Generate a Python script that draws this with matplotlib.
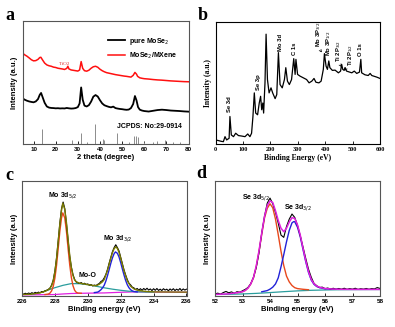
import numpy as np
import matplotlib
matplotlib.use("Agg")
from matplotlib import pyplot as plt

SANS = "Liberation Sans"
SERIF = "Liberation Serif"

# ---- panel a: XRD ----
red_x = [5, 6, 7, 8, 9, 10, 11, 12, 12.8, 13.3, 14, 15, 16, 17, 18, 19, 20, 21, 22, 23, 24, 25,
         25.5, 26, 27, 28, 29, 30, 30.8, 31.5, 32.2, 33, 34, 35, 36, 37, 38, 39, 40, 41, 42, 43,
         44, 45, 46, 47, 48, 49, 50, 51, 52, 53, 54, 55, 55.8, 56.5, 57, 58, 59, 60, 62, 64, 66,
         68, 70, 72, 74, 76, 78, 80]
red_y = [73.9, 72.5, 71.4, 70.0, 68.5, 67.6, 67.8, 68.8, 70.3, 70.5, 68.5, 65.8, 64.3, 63.6, 63.2,
         62.5, 62.2, 61.6, 61.3, 61.0, 60.6, 61.5, 63.2, 61.0, 60.2, 59.9, 59.6, 59.3, 60.2, 67.0,
         61.5, 59.6, 59.2, 60.0, 61.6, 62.8, 63.2, 62.4, 60.8, 59.6, 58.7, 58.0, 57.6, 57.2, 56.8,
         56.4, 56.1, 55.8, 55.5, 55.2, 55.0, 54.7, 54.4, 55.8, 58.2, 56.8, 55.0, 53.8, 53.4, 53.1,
         52.8, 52.4, 52.1, 51.9, 51.6, 51.3, 51.1, 50.9, 50.7, 50.6]
blk_x = [5, 6, 7, 8, 9, 10, 11, 12, 12.8, 13.4, 14, 15, 16, 17, 18, 19, 20, 21, 22, 23, 24, 25,
         26, 27, 28, 29, 30, 30.8, 31.5, 32.2, 33, 34, 35, 36, 37, 38, 39, 40, 41, 42, 43, 44, 45,
         46, 47, 48, 49, 50, 51, 52, 53, 54, 55, 55.8, 56.5, 57.2, 58, 59, 60, 62, 64, 66, 68, 70,
         72, 74, 76, 78, 80]
blk_y = [37.2, 36.0, 35.2, 34.6, 34.2, 33.9, 34.6, 36.5, 40.0, 41.5, 38.5, 33.5, 30.5, 29.6, 29.3,
         29.2, 29.0, 29.1, 28.9, 29.0, 28.9, 29.3, 29.0, 28.8, 28.9, 29.2, 30.0, 33.0, 46.0, 36.0,
         31.2, 30.5, 31.6, 34.5, 38.5, 39.8, 38.6, 35.6, 33.0, 31.5, 30.8, 30.2, 29.8, 30.4, 29.2,
         28.8, 28.5, 28.3, 28.0, 27.8, 28.0, 29.2, 32.5, 39.0, 35.5, 30.0, 27.9, 27.2, 26.8, 26.4,
         27.0, 27.6, 27.9, 27.6, 27.2, 27.0, 26.8, 26.5, 26.3]
# JCPDS 29-0914 reference lines
ref_pos = [13.7, 27.4, 31.3, 34.3, 37.9, 41.5, 42.0, 47.5, 53.3, 55.6, 56.2, 57.0, 60.0, 64.0,
           65.6, 69.4, 73.0, 76.0]
ref_h = [12.2, 3.0, 8.6, 1.8, 16.5, 4.3, 3.5, 8.6, 1.8, 6.1, 6.1, 5.6, 1.5, 1.8, 2.2, 3.2, 1.8, 1.5]

# ---- panel b: XPS survey ----
sv_x = [0, 10, 20, 28, 34, 40, 49, 52, 57, 65, 73, 83, 95, 107, 117, 125, 131, 136, 141, 146,
        153, 159, 164, 168, 172, 175, 180, 184, 189, 195, 202, 208, 217, 223, 229, 235, 243, 251,
        256, 262, 269, 277, 285, 290, 293, 299, 308, 320, 332, 341, 351, 359, 366, 377, 385, 393,
        397, 403, 408, 413, 417, 426, 436, 448, 456, 460, 464, 469, 472, 478, 497, 506, 515, 525,
        530, 533, 545, 557, 564, 570, 588, 600]
sv_y = [3.3, 2.8, 2.2, 1.9, 6.0, 3.3, 4.7, 22.5, 7.4, 6.0, 8.8, 6.9, 6.5, 6.0, 8.2, 6.0, 8.8,
        22.5, 41.8, 25.3, 23.9, 33.5, 39.0, 28.0, 33.5, 25.3, 50.0, 89.8, 52.7, 41.8, 45.9, 41.8,
        37.1, 40.4, 74.7, 48.6, 45.9, 52.7, 62.4, 51.4, 48.6, 52.7, 69.8, 56.9, 69.2, 56.9, 55.5,
        54.1, 52.7, 50.0, 51.4, 53.6, 50.5, 50.0, 51.4, 61.0, 73.9, 63.7, 61.0, 67.9, 62.4, 60.2,
        60.4, 58.2, 59.6, 65.1, 61.0, 60.2, 62.4, 59.6, 58.2, 59.6, 57.7, 58.8, 69.2, 58.2, 56.6,
        56.0, 57.7, 56.0, 54.7, 53.6]

# ---- panel c: Mo 3d ----
mo_raw = [1.0, 0.6, 1.4, 0.8, 1.6, 1.0, 1.9, 1.2, 2.2, 1.6, 2.4, 1.8, 2.9, 2.5, 3.6, 4.0, 4.8, 6.0,
          8.6, 13.0, 21.0, 32.5, 47.5, 63.0, 75.5, 81.5, 75.8, 63.0, 48.5, 34.0, 24.5, 17.8, 13.6,
          11.2, 10.6, 10.0, 10.8, 9.6, 10.2, 9.0, 9.6, 8.4, 9.0, 7.8, 8.6, 8.2, 9.2, 10.0, 11.8,
          12.6, 15.0, 18.0, 22.5, 28.0, 33.0, 38.0, 41.5, 44.0, 41.5, 38.5, 33.0, 27.5, 22.0, 17.5,
          13.5, 10.2, 8.8, 6.8, 6.2, 4.6, 5.6, 4.2, 5.4, 4.0, 5.6, 4.4, 5.8, 4.2, 5.2, 3.8, 5.4,
          4.0, 5.6, 3.9, 5.0, 3.8, 5.4, 4.2, 5.0, 3.6, 5.2, 4.0, 5.4, 3.8, 5.0, 4.0, 5.6, 3.8, 5.2,
          4.2, 5.0]
mo_env_x = [226.0, 226.5, 227.0, 227.3, 227.5, 227.6, 227.7, 227.8, 227.9, 228.0, 228.1, 228.2,
            228.3, 228.4, 228.48, 228.6, 228.7, 228.8, 228.9, 229.0, 229.1, 229.2, 229.3, 229.5,
            229.8, 230.0, 230.3, 230.5, 230.7, 230.9, 231.0, 231.2, 231.4, 231.5, 231.6, 231.7,
            231.8, 231.9, 232.0, 232.2, 232.4, 232.6, 232.8, 233.0, 233.5, 234.0, 236.0]
mo_env_y = [0.3, 0.5, 1.5, 2.6, 3.8, 4.6, 5.7, 8.0, 12.4, 20.3, 31.8, 46.8, 62.0, 74.0, 80.5,
            75.0, 63.8, 49.0, 34.8, 23.9, 17.0, 13.0, 11.5, 10.2, 9.6, 9.0, 8.3, 8.0, 9.3, 11.6,
            13.5, 21.6, 32.3, 37.1, 40.5, 42.2, 40.7, 37.3, 32.2, 21.2, 12.3, 7.6, 5.3, 4.1, 3.0,
            2.6, 2.4]
mo52_x = [227.4, 227.6, 227.7, 227.8, 227.9, 228.0, 228.1, 228.2, 228.3, 228.4, 228.48, 228.6,
          228.7, 228.8, 228.9, 229.0, 229.1, 229.2, 229.3, 229.4, 229.6]
mo52_y = [0.3, 0.7, 1.5, 3.5, 7.5, 14.8, 26.0, 40.6, 55.7, 67.4, 72.0, 67.6, 56.0, 41.0, 26.5,
          15.3, 8.0, 4.0, 2.2, 1.6, 1.4]
mo32_x = [230.4, 230.6, 230.7, 230.8, 230.9, 231.0, 231.1, 231.2, 231.3, 231.4, 231.5, 231.6,
          231.68, 231.8, 231.9, 232.0, 232.1, 232.2, 232.3, 232.4, 232.5, 232.6, 232.7, 232.8, 233.0]
mo32_y = [2.0, 2.4, 3.3, 4.5, 6.2, 8.5, 12.2, 17.0, 22.3, 27.8, 32.6, 36.2, 37.7, 36.5, 33.2,
          28.3, 22.8, 17.5, 12.7, 8.9, 6.3, 4.6, 3.5, 2.9, 2.6]
moo_x = [226.5, 227.0, 227.5, 228.0, 228.5, 229.0, 229.5, 230.0, 230.5, 231.0, 231.5, 232.0,
         232.5, 233.0, 233.5, 234.0]
moo_y = [0.5, 1.5, 3.8, 6.3, 8.4, 9.9, 9.8, 9.0, 7.6, 6.2, 5.0, 4.0, 3.2, 2.7, 2.5, 2.5]
mo_bg_x = [226.0, 227.0, 228.0, 228.5, 229.0, 230.0, 231.0, 231.7, 232.5, 233.0, 234.0, 236.0]
mo_bg_y = [0.0, 0.1, 0.3, 0.8, 1.2, 1.5, 1.7, 2.1, 2.5, 2.6, 2.5, 2.3]

# ---- panel d: Se 3d ----
se_raw = [0.8, 1.5, 0.6, 2.0, 3.0, 1.8, 2.6, 1.4, 2.8, 2.2, 3.6, 4.8, 6.5, 9.8, 15.5, 24.0, 37.0,
          54.5, 69.0, 80.5, 85.0, 80.0, 72.5, 63.0, 52.5, 50.5, 60.0, 66.5, 71.0, 68.0, 61.0, 52.0,
          42.0, 32.0, 22.5, 15.5, 10.0, 8.0, 6.4, 6.8, 5.4, 6.0, 5.0, 5.8, 4.8, 5.6, 5.0, 5.8,
          4.9, 5.5, 5.0, 5.8, 4.8, 5.4, 5.0, 5.6, 4.9, 5.5, 5.2, 6.4, 5.6]
se_env_x = [52.0, 52.5, 52.8, 52.9, 53.0, 53.1, 53.2, 53.3, 53.4, 53.5, 53.6, 53.7, 53.8, 53.9,
            54.0, 54.1, 54.2, 54.3, 54.4, 54.5, 54.6, 54.7, 54.8, 54.9, 55.0, 55.1, 55.2, 55.3,
            55.4, 55.5, 55.6, 55.7, 55.8, 55.9, 56.0, 56.2, 56.5, 57.0, 58.0]
se_env_y = [0.4, 0.9, 1.9, 2.3, 2.8, 3.9, 6.0, 9.6, 15.3, 25.4, 38.7, 54.3, 68.9, 78.5, 82.5,
            81.1, 73.8, 65.3, 58.5, 55.5, 58.5, 64.0, 67.8, 67.1, 61.4, 52.5, 41.1, 30.1, 20.5,
            13.6, 9.8, 7.7, 6.7, 6.1, 5.6, 5.2, 4.9, 4.8, 4.8]
se52_x = [52.8, 52.9, 53.0, 53.1, 53.2, 53.3, 53.4, 53.5, 53.6, 53.7, 53.8, 53.9, 54.0, 54.1,
          54.2, 54.3, 54.4, 54.5, 54.6, 54.7, 54.8, 54.9, 55.0, 55.2, 55.4]
se52_y = [1.9, 2.3, 2.8, 3.9, 6.0, 9.6, 15.0, 24.9, 38.0, 53.2, 67.5, 76.0, 80.0, 76.5, 66.5,
          52.8, 38.3, 25.8, 16.5, 11.4, 8.2, 6.3, 5.5, 4.9, 4.5]
se32_x = [53.7, 53.9, 54.0, 54.1, 54.2, 54.3, 54.4, 54.5, 54.6, 54.7, 54.8, 54.86, 54.9, 55.0,
          55.1, 55.2, 55.3, 55.4, 55.5, 55.6, 55.7, 55.8, 55.9, 56.0, 56.2, 56.5]
se32_y = [2.7, 3.75, 5.0, 6.75, 9.6, 14.95, 24.6, 35.3, 46.6, 56.6, 63.25, 64.3, 64.2, 59.4,
          51.0, 39.9, 29.1, 19.7, 13.0, 9.25, 7.3, 6.35, 5.8, 5.4, 5.1, 4.9]
se_bg_x = [52.0, 52.5, 53.0, 53.5, 54.0, 54.5, 55.0, 55.5, 56.0, 56.5, 57.0, 58.0]
se_bg_y = [0.3, 0.5, 0.8, 1.3, 2.0, 2.8, 3.5, 4.0, 4.3, 4.5, 4.6, 4.7]


def style_axes(ax, family, xlim, xticks, xlabel, ylabel, frame='#555555'):
    ax.set_xlim(*xlim)
    ax.set_xticks(xticks)
    ax.set_yticks([])
    ax.tick_params(axis='x', direction='in', length=2, width=0.6, pad=2, labelsize=4.5)
    for lab in ax.get_xticklabels():
        lab.set_fontfamily(family)
        lab.set_fontweight('bold')
    for sp in ax.spines.values():
        sp.set_color(frame)
        sp.set_linewidth(0.8)
    ax.set_xlabel(xlabel, fontsize=5.5, fontweight='bold', family=family, labelpad=1.5)
    ax.set_ylabel(ylabel, fontsize=5.5, fontweight='bold', family=family, labelpad=3)


W, H = 395, 327
fig = plt.figure(figsize=(W / 100, H / 100), dpi=100)
fig.patch.set_facecolor('white')


def add_axes(x0, y0, x1, y1):
    return fig.add_axes([x0 / W, 1 - y1 / H, (x1 - x0) / W, (y1 - y0) / H])


# panel a
ax = add_axes(22.5, 21, 188.5, 144)
ax.vlines(ref_pos, 0, ref_h, color='#8c8c8c', lw=0.7)
ax.plot(blk_x, blk_y, color='black', lw=1.3, label='pure MoSe$_2$')
ax.plot(red_x, red_y, color='#ff1010', lw=1.1, label='MoSe$_2$/MXene')
ax.set_ylim(0, 100)
style_axes(ax, SANS, (5, 80), range(10, 81, 10), '2 theta (degree)', 'Intensity (a.u.)')
ax.text(23.8, 64.5, 'TiO$_2$', color='#e03030', fontsize=3.8, family=SERIF, ha='center')
ax.text(47.5, 13.2, 'JCPDS: No:29-0914', fontsize=5, fontweight='bold', family=SANS)
ax.legend(loc='upper left', bbox_to_anchor=(0.48, 0.93), frameon=False,
          prop={'family': SANS, 'weight': 'bold', 'size': 5}, handlelength=2.4,
          handletextpad=0.6, labelspacing=0.5)
fig.text(10 / W, 1 - 16 / H, 'a', fontsize=13, fontweight='bold', family=SERIF,
         ha='center', va='center')

# panel b
ax = add_axes(215.7, 21.7, 380, 144)
ax.plot(sv_x, sv_y, color='black', lw=0.9)
ax.set_ylim(0, 100)
style_axes(ax, SERIF, (0, 600), range(0, 601, 100), 'Binding Energy (eV)', 'Intensity (a.u.)',
           frame='black')
blab = dict(rotation=90, fontsize=4.2, fontweight='bold', family=SANS, ha='center', va='bottom')
ax.text(52, 26, 'Se 3d', **blab)
ax.text(157, 44, 'Se 3p', **blab)
ax.text(235, 76, 'Mo 3d', **blab)
ax.text(286, 73, 'C 1s', **blab)
ax.text(377, 79, 'Mo 3P$_{3/2}$', **blab)
ax.text(413, 72, 'Mo 3P$_{1/2}$', **blab)
ax.text(450, 67, 'Ti 2P$_{3/2}$', **blab)
ax.text(493, 64, 'Ti 2P$_{1/2}$', **blab)
ax.text(530, 72, 'O 1s', **blab)
arr = dict(arrowstyle='->', lw=0.5, mutation_scale=4)
ax.annotate('', xy=(393, 73), xytext=(378, 78), arrowprops=arr)
ax.annotate('', xy=(460, 63), xytext=(451, 66), arrowprops=arr)
ax.annotate('', xy=(470, 60), xytext=(482, 63.5), arrowprops=arr)
fig.text(203 / W, 1 - 15 / H, 'b', fontsize=13, fontweight='bold', family=SERIF,
         ha='center', va='center')

# panel c
ax = add_axes(22, 181, 186.5, 296)
ax.plot(mo_bg_x, mo_bg_y, color='#e020e0', lw=0.9)
ax.plot(moo_x, moo_y, color='#2a9d9d', lw=0.9)
ax.plot(mo52_x, mo52_y, color='#e8481c', lw=1.0)
ax.plot(mo32_x, mo32_y, color='#2222d8', lw=1.0)
ax.plot(np.linspace(226, 236, len(mo_raw)), mo_raw, color='black', lw=0.8)
ax.plot(mo_env_x, mo_env_y, color='#7a7a00', lw=1.0)
ax.set_ylim(-1, 100)
style_axes(ax, SANS, (226, 236), range(226, 237, 2), 'Binding energy (eV)', 'Intensity (a.u)')
ax.text(228.5, 86, 'Mo 3d$_{5/2}$', fontsize=5, fontweight='bold', family=SANS, ha='center')
ax.text(231.8, 48, 'Mo 3d$_{3/2}$', fontsize=5, fontweight='bold', family=SANS, ha='center')
ax.text(230.0, 15.5, 'Mo-O', fontsize=5, fontweight='bold', family=SANS, ha='center')
fig.text(9 / W, 1 - 175 / H, 'c', fontsize=13, fontweight='bold', family=SERIF,
         ha='center', va='center')

# panel d
ax = add_axes(215, 181, 380, 296)
ax.plot(se_bg_x, se_bg_y, color='#2a9d9d', lw=0.9)
ax.plot(se52_x, se52_y, color='#e8481c', lw=1.0)
ax.plot(se32_x, se32_y, color='#2222d8', lw=1.0)
ax.plot(np.linspace(52, 58, len(se_raw)), se_raw, color='black', lw=0.8)
ax.plot(se_env_x, se_env_y, color='#e020e0', lw=1.1)
ax.set_ylim(-1, 100)
style_axes(ax, SANS, (52, 58), range(52, 59), 'Binding energy (eV)', 'Intensity (a.u)')
ax.text(53.5, 84, 'Se 3d$_{5/2}$', fontsize=5, fontweight='bold', family=SANS, ha='center')
ax.text(55.0, 75, 'Se 3d$_{3/2}$', fontsize=5, fontweight='bold', family=SANS, ha='center')
fig.text(201 / W, 1 - 174 / H, 'd', fontsize=13, fontweight='bold', family=SERIF,
         ha='center', va='center')

fig.savefig('out.png', dpi=100)
